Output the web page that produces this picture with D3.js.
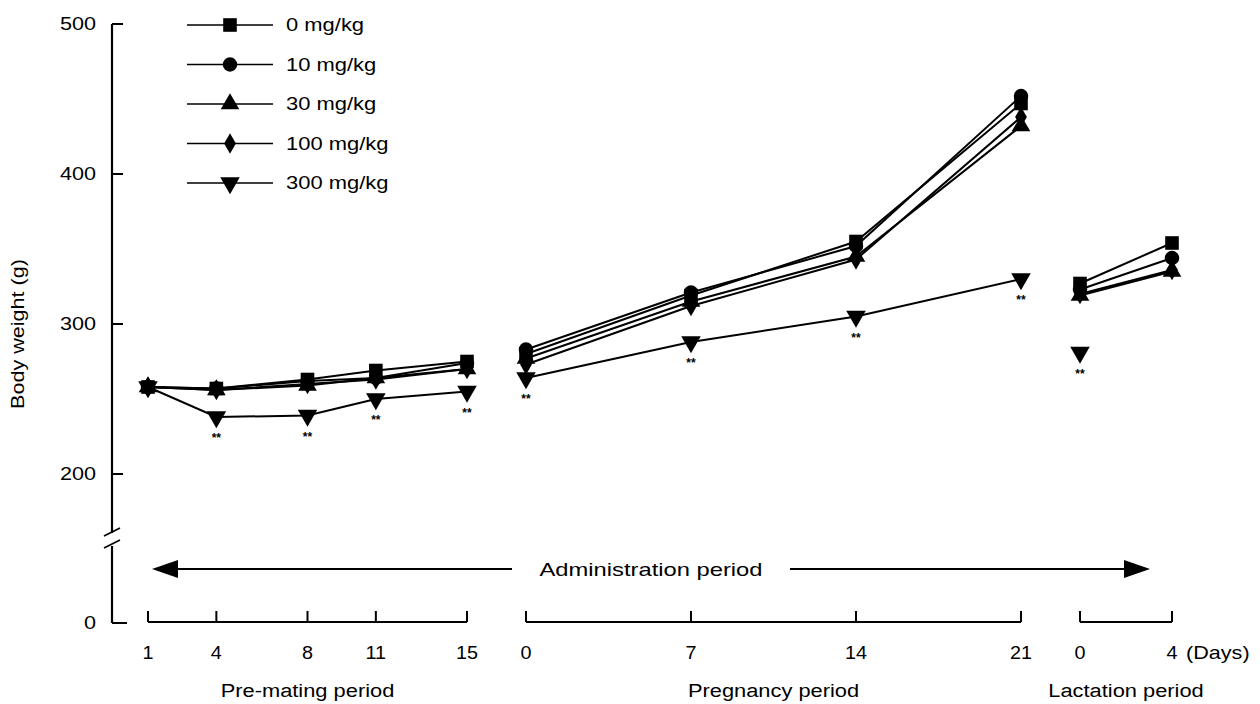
<!DOCTYPE html>
<html>
<head>
<meta charset="utf-8">
<script src="https://d3js.org/d3.v7.min.js"></script>
<style>
  body { margin: 0; background: #fff; }
  svg { display: block; font-family: "Liberation Sans", Arial, sans-serif; }
</style>
</head>
<body>
<div id="chart"></div>
<script>
//-- Data --//
var doses = ["0 mg/kg", "10 mg/kg", "30 mg/kg", "100 mg/kg", "300 mg/kg"];

var preDays = [1, 4, 8, 11, 15],
    pregDays = [0, 7, 14, 21],
    lacDays = [0, 4];

// body weight (g), one row per dose
var preValues = [
  [258, 257, 263, 269, 275],
  [258, 257, 262, 264, 274],
  [258, 256, 259, 264, 270],
  [258, 256, 260, 263, 270],
  [258, 238, 239, 250, 255]
];
var pregValues = [
  [280, 319, 355, 447],
  [283, 321, 352, 452],
  [277, 315, 345, 432],
  [273, 312, 343, 438],
  [264, 288, 305, 330]
];
var lacValues = [
  [327, 354],
  [323, 344],
  [319, 335],
  [320, 336],
  [281, null]
];

// "**" marks (p<0.01) for the 300 mg/kg group
var preSig = [false, true, true, true, true],
    pregSig = [true, true, true, true],
    lacSig = [true, false];

var yTicks = [200, 300, 400, 500];
var periodNames = ["Pre-mating period", "Pregnancy period", "Lactation period"];

//-- SVG --//
var width = 1260, height = 704;
var svg = d3.select("#chart").append("svg")
  .attr("width", width)
  .attr("height", height);

// the scanned lettering is a bit wide, so text is stretched horizontally
function addText(g, x, y, txt, size, anchor, sx) {
  return g.append("g")
    .attr("transform", "translate(" + x + "," + y + ") scale(" + (sx || 1.2) + ",1)")
    .append("text")
    .attr("text-anchor", anchor || "start")
    .style("font-size", size + "px")
    .text(txt);
}

//-- Scales --//
var yScale = d3.scaleLinear().domain([200, 500]).range([474, 24]),
    yZero = 623;

var periods = [
  {name: periodNames[0], days: preDays, values: preValues, sig: preSig,
   x: d3.scaleLinear().domain([1, 15]).range([148, 467])},
  {name: periodNames[1], days: pregDays, values: pregValues, sig: pregSig,
   x: d3.scaleLinear().domain([0, 21]).range([526, 1021])},
  {name: periodNames[2], days: lacDays, values: lacValues, sig: lacSig,
   x: d3.scaleLinear().domain([0, 4]).range([1080, 1172])}
];

var symbols = [
  d3.symbol().type(d3.symbolSquare).size(185),
  d3.symbol().type(d3.symbolCircle).size(165),
  d3.symbol().type(d3.symbolTriangle).size(150),
  d3.symbol().type(d3.symbolDiamond).size(120),
  d3.symbol().type(d3.symbolTriangle).size(165)
];
function marker(g, i, x, y) {
  var rot = i == 4 ? " rotate(180)" : "";
  g.append("path")
    .attr("d", symbols[i]())
    .attr("transform", "translate(" + x + "," + y + ")" + rot)
    .style("fill", "#000");
}

//-- Y axis with break --//
var axisX = 112;
var yAxis = svg.append("g").attr("class", "y axis");
yAxis.append("line")
  .attr("x1", axisX).attr("x2", axisX)
  .attr("y1", yScale(500)).attr("y2", 533)
  .style("stroke", "#000").style("stroke-width", 2.2);
yAxis.append("line")
  .attr("x1", axisX).attr("x2", axisX)
  .attr("y1", 546).attr("y2", yZero)
  .style("stroke", "#000").style("stroke-width", 2.2);
yAxis.append("line")
  .attr("x1", axisX).attr("x2", 127)
  .attr("y1", yZero).attr("y2", yZero)
  .style("stroke", "#000").style("stroke-width", 2);
// break marks
[0, 12].forEach(function(o) {
  yAxis.append("line")
    .attr("x1", axisX - 8).attr("x2", axisX + 8)
    .attr("y1", 536 + o).attr("y2", 528 + o)
    .style("stroke", "#000").style("stroke-width", 1.6);
});
yAxis.selectAll(".tick")
  .data(yTicks)
  .enter().append("line")
  .attr("x1", axisX).attr("x2", axisX + 11)
  .attr("y1", function(d) { return yScale(d); })
  .attr("y2", function(d) { return yScale(d); })
  .style("stroke", "#000").style("stroke-width", 2);
yTicks.forEach(function(d) {
  addText(yAxis, 96, yScale(d) + 6, d, 18, "end");
});
addText(yAxis, 96, yZero + 6, "0", 18, "end");
svg.append("text")
  .attr("transform", "translate(24," + 334 + ") rotate(-90) scale(1.2,1)")
  .attr("text-anchor", "middle")
  .style("font-size", "18px")
  .text("Body weight (g)");

//-- X axis brackets --//
var axisY = 622;
periods.forEach(function(p, pi) {
  var g = svg.append("g").attr("class", "x axis");
  var ext = d3.extent(p.days);
  g.append("line")
    .attr("x1", p.x(ext[0])).attr("x2", p.x(ext[1]))
    .attr("y1", axisY).attr("y2", axisY)
    .style("stroke", "#000").style("stroke-width", 2);
  g.selectAll(".tick")
    .data(p.days)
    .enter().append("line")
    .attr("x1", function(d) { return p.x(d); })
    .attr("x2", function(d) { return p.x(d); })
    .attr("y1", axisY).attr("y2", axisY - 11)
    .style("stroke", "#000").style("stroke-width", 2);
  p.days.forEach(function(d) {
    addText(g, p.x(d), 659, d, 18, "middle", 1.1);
  });
  addText(g, (p.x(ext[0]) + p.x(ext[1])) / 2, 697, p.name, 19, "middle", 1.15);
});
addText(svg, 1186, 659, "(Days)", 18, "start", 1.2);

//-- Administration period arrow --//
var arrowY = 569;
var arr = svg.append("g");
arr.append("line")
  .attr("x1", 176).attr("x2", 512)
  .attr("y1", arrowY).attr("y2", arrowY)
  .style("stroke", "#000").style("stroke-width", 1.8);
arr.append("line")
  .attr("x1", 790).attr("x2", 1126)
  .attr("y1", arrowY).attr("y2", arrowY)
  .style("stroke", "#000").style("stroke-width", 1.8);
arr.append("path")
  .attr("d", "M152," + arrowY + "L178," + (arrowY - 9) + "L178," + (arrowY + 9) + "Z")
  .style("fill", "#000");
arr.append("path")
  .attr("d", "M1150," + arrowY + "L1124," + (arrowY - 9) + "L1124," + (arrowY + 9) + "Z")
  .style("fill", "#000");
addText(arr, 651, arrowY + 7, "Administration period", 19, "middle", 1.25);

//-- Lines and markers --//
var line = d3.line()
  .defined(function(d) { return d[1] != null; });

periods.forEach(function(p) {
  var g = svg.append("g");
  // draw 300 mg/kg first so the control group stays on top
  d3.range(doses.length - 1, -1, -1).forEach(function(i) {
    var pts = p.days.map(function(day, k) {
      return [p.x(day), p.values[i][k] == null ? null : yScale(p.values[i][k])];
    });
    g.append("path")
      .attr("d", line(pts))
      .style("fill", "none")
      .style("stroke", "#000")
      .style("stroke-width", 2);
    pts.forEach(function(pt) {
      if (pt[1] != null) marker(g, i, pt[0], pt[1]);
    });
    if (i == 4) {
      pts.forEach(function(pt, k) {
        if (pt[1] != null && p.sig[k]) {
          g.append("text")
            .attr("x", pt[0]).attr("y", pt[1] + 25)
            .attr("text-anchor", "middle")
            .style("font-size", "12px")
            .style("font-weight", "bold")
            .text("**");
        }
      });
    }
  });
});

//-- Legend --//
var legend = svg.append("g").attr("class", "legend");
doses.forEach(function(name, i) {
  var ly = 25 + i * 39.5;
  legend.append("line")
    .attr("x1", 187).attr("x2", 273)
    .attr("y1", ly).attr("y2", ly)
    .style("stroke", "#000").style("stroke-width", 1.6);
  marker(legend, i, 230, ly);
  addText(legend, 286, ly + 6, name, 18, "start", 1.22);
});
</script>
</body>
</html>
